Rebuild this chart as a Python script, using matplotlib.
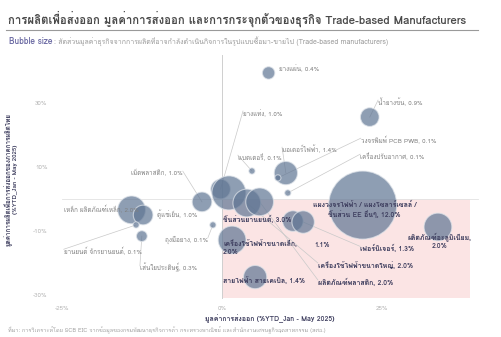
import matplotlib
matplotlib.use("Agg")
import matplotlib.pyplot as plt
from matplotlib import font_manager
from matplotlib.patches import Rectangle
from fontTools.ttLib import TTFont


def find_thai_font():
    # pick the first installed family that has Thai glyphs
    for f in font_manager.fontManager.ttflist:
        try:
            tt = TTFont(f.fname, fontNumber=0, lazy=True)
            cmap = tt.getBestCmap()
        except Exception:
            continue
        if cmap and 0x0E01 in cmap and 0x0E48 in cmap:
            return f.name
    return "DejaVu Sans"


thai = find_thai_font()
plt.rcParams["font.family"] = [thai, "DejaVu Sans"]

# ---------------------------
# Data
# ---------------------------
labels = [
    "ยางแผ่น, 0.4%", "น้ำยางข้น, 0.9%", "ยางแท่ง, 1.0%", "ชิ้นส่วนยานยนต์, 3.0%",
    "เม็ดพลาสติก, 1.0%", "แบตเตอรี่, 0.1%", "มอเตอร์ไฟฟ้า, 1.4%",
    "วงจรพิมพ์ PCB PWB, 0.1%", "เครื่องปรับอากาศ, 0.1%",
    "แผงวงจรไฟฟ้า / แผงโซลาร์เซลล์ /\nชิ้นส่วน EE อื่นๆ, 12.0%",
    "ผลิตภัณฑ์อะลูมิเนียม,\n2.0%", "เครื่องใช้ไฟฟ้าขนาดเล็ก,\n2.0%",
    "สายไฟฟ้า สายเคเบิล, 1.4%", "เครื่องใช้ไฟฟ้าขนาดใหญ่, 2.0%",
    "ผลิตภัณฑ์พลาสติก, 2.0%", "1.1%", "เฟอร์นิเจอร์, 1.3%", "ถุงมือยาง, 0.1%",
    "เหล็ก ผลิตภัณฑ์เหล็ก, 2.0%", "ตู้แช่เย็น, 1.0%",
    "ยานยนต์ จักรยานยนต์, 0.1%", "เส้นใยประดิษฐ์, 0.3%",
]
export_growth = [7.3, 23.1, -0.2, 1.1, -3.1, 4.7, 10.0, 8.75, 10.3, 22.0,
                 33.75, 1.6, 5.2, 3.9, 5.9, 11.1, 12.7, -1.4, -14.1, -12.3,
                 -13.4, -12.5]
prod_growth = [39.4, 25.6, 3.1, 1.9, -0.9, 8.75, 8.1, 6.6, 1.9, -1.9,
               -8.75, -12.8, -24.4, -1.25, -0.9, -6.9, -7.2, -8.1, -3.4, -5.0,
               -8.1, -11.6]
share = [0.4, 0.9, 1.0, 3.0, 1.0, 0.1, 1.4, 0.1, 0.1, 12.0,
         2.0, 2.0, 1.4, 2.0, 2.0, 1.1, 1.3, 0.1, 2.0, 1.0, 0.1, 0.3]

# label anchor (x, y, ha, bold, leader line)
label_pos = [
    (8.9, 41.0, "left", False, False), (24.4, 30.3, "left", False, True),
    (3.3, 26.9, "left", False, True), (0.2, -6.3, "left", True, False),
    (-6.1, 8.1, "right", False, True), (2.5, 13.1, "left", False, True),
    (9.4, 15.6, "left", False, True), (21.7, 18.4, "left", False, True),
    (21.6, 13.4, "left", False, True), (22.3, -3.4, "center", True, False),
    (34.0, -13.0, "center", True, False), (0.2, -15.0, "left", True, False),
    (0.2, -25.3, "left", True, False), (15.0, -20.6, "left", True, True),
    (15.0, -25.9, "left", True, True), (15.6, -14.5, "center", True, False),
    (21.6, -15.4, "left", True, True), (-2.2, -12.8, "right", False, True),
    (-24.7, -3.1, "left", False, False), (-10.2, -4.7, "left", False, False),
    (-24.7, -16.3, "left", False, True), (-12.8, -21.5, "left", False, True),
]

fig = plt.figure(figsize=(5.02, 3.37), dpi=100)
ax = fig.add_axes([0.0976, 0.0961, 0.880, 0.7407])
ax.set_xlim(-27, 42)
ax.set_ylim(-33, 45)

# pink zone: positive export, negative production
ax.add_patch(Rectangle((0, -31), 38.75, 31, facecolor="#fbe4e4",
                       edgecolor="none", zorder=0))
ax.plot([0, 0], [-31, 45], color="#cfcfcf", lw=0.7, zorder=1)
ax.plot([-25, 40], [0, 0], color="#e2e2e2", lw=0.6, zorder=1)

sizes = [200 * s for s in share]
ax.scatter(export_growth, prod_growth, s=sizes, color="#5f7593", alpha=0.7,
           edgecolors="#dfe4ea", linewidths=0.8, zorder=3)

for lab, x, y, (lx, ly, ha, bold, leader) in zip(labels, export_growth,
                                                 prod_growth, label_pos):
    if leader:
        ax.plot([x, lx], [y, ly + 0.6], color="#c9c9c9", lw=0.5, zorder=2)
    if bold:
        ax.text(lx, ly, lab, fontsize=5, fontweight="bold", color="#3b3b5c",
                ha=ha, va="center", zorder=5, linespacing=1.3)
    else:
        ax.text(lx, ly, lab, fontsize=4.5, color="#808080", ha=ha,
                va="center", zorder=5)

ax.set_xticks([-25, 0, 25])
ax.set_xticklabels(["-25%", "0%", "25%"])
ax.set_yticks([-30, -10, 10, 30])
ax.set_yticklabels(["-30%", "-10%", "10%", "30%"])
ax.tick_params(length=0, labelsize=4.5, labelcolor="#b5b5b5", pad=1)
for sp in ax.spines.values():
    sp.set_visible(False)

ax.set_xlabel("มูลค่าการส่งออก (%YTD_Jan - May 2025)", fontsize=5,
              fontweight="bold", color="#3b3b5c", labelpad=2)
ax.set_ylabel("มูลค่าการผลิตเพื่อการส่งออกของภาคการผลิตไทย\n(%YTD_Jan - May 2025)",
              fontsize=4.5, fontweight="bold", color="#3b3b5c")
ax.yaxis.set_label_coords(-0.07, 0.5)

# title block
fig.text(0.016, 0.945, "การผลิตเพื่อส่งออก มูลค่าการส่งออก และการกระจุกตัวของธุรกิจ Trade-based Manufacturers",
         fontsize=8.2, fontweight="bold", color="#4a4a4a", va="center")
fig.add_artist(plt.Line2D([0.012, 0.952], [0.912, 0.912], color="#9a9a9a", lw=0.8))
fig.text(0.018, 0.877, "Bubble size", fontsize=6, fontweight="bold",
         color="#6b6aa3", va="center")
fig.text(0.108, 0.877,
         ": สัดส่วนมูลค่าธุรกิจจากการผลิตที่อาจกำลังดำเนินกิจการในรูปแบบซื้อมา-ขายไป (Trade-based manufacturers)",
         fontsize=5, color="#9a9a9a", va="center")
fig.text(0.016, 0.02,
         "ที่มา: การวิเคราะห์โดย SCB EIC จากข้อมูลของกรมพัฒนาธุรกิจการค้า กระทรวงพาณิชย์ และสำนักงานเศรษฐกิจอุตสาหกรรม (สศอ.)",
         fontsize=4, color="#a0a0a0", va="center")

fig.savefig("out.png", dpi=100)
